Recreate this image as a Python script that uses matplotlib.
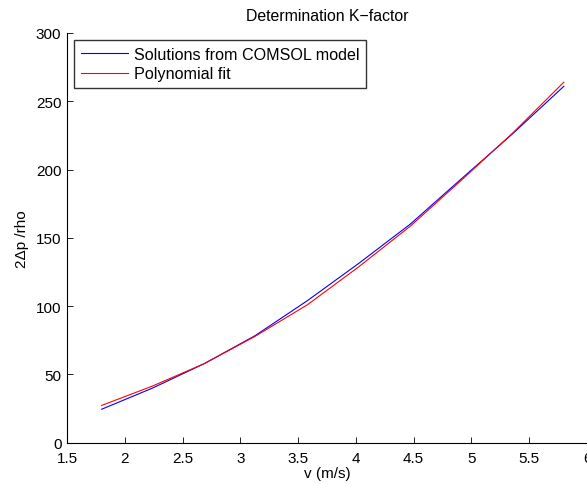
import matplotlib
matplotlib.use("Agg")
import matplotlib.pyplot as plt

plt.rcParams['font.family'] = ['Liberation Sans', 'DejaVu Sans']

# velocity (m/s)
v = [1.80, 2.24, 2.69, 3.13, 3.58, 4.02, 4.47, 4.91, 5.36, 5.80]
# 2*dp/rho from COMSOL model
comsol = [24.5, 40.0, 58.0, 78.5, 104.0, 131.0, 160.0, 193.0, 226.5, 261.0]
# polynomial fit
polyfit = [27.3, 41.5, 58.0, 78.0, 101.0, 128.5, 158.5, 192.0, 227.0, 264.0]

fig = plt.figure(figsize=(5.87, 4.85), dpi=100)
ax = fig.add_axes([0.1141, 0.0851, 0.8859, 0.8448])

ax.plot(v, comsol, color='#0000ff', lw=0.8, label='Solutions from COMSOL model')
ax.plot(v, polyfit, color='#ff0000', lw=0.8, label='Polynomial fit')

ax.set_xlim(1.5, 6)
ax.set_ylim(0, 300)
ax.set_xticks([1.5, 2, 2.5, 3, 3.5, 4, 4.5, 5, 5.5, 6])
ax.set_xticklabels(['1.5', '2', '2.5', '3', '3.5', '4', '4.5', '5', '5.5', '6'])
ax.set_yticks(range(0, 301, 50))

for s in ['top', 'right']:
    ax.spines[s].set_visible(False)
ax.tick_params(direction='in', length=4, labelsize=11, width=0.6)
ax.tick_params(axis='x', pad=6)
ax.tick_params(axis='y', pad=4)

ax.set_title('Determination K\u2212factor', fontsize=11.4, pad=9)
ax.set_xlabel('v (m/s)', fontsize=11, labelpad=1)
ax.set_ylabel('2\u0394p /rho', fontsize=11, labelpad=5)

leg = ax.legend(loc='upper left', fontsize=11.6, frameon=True, fancybox=False,
                edgecolor='black', borderaxespad=0.46, handlelength=2.95,
                borderpad=0.4, labelspacing=0.28, handletextpad=0.35)
leg.get_frame().set_linewidth(1.0)

fig.savefig('out.png', dpi=100)
